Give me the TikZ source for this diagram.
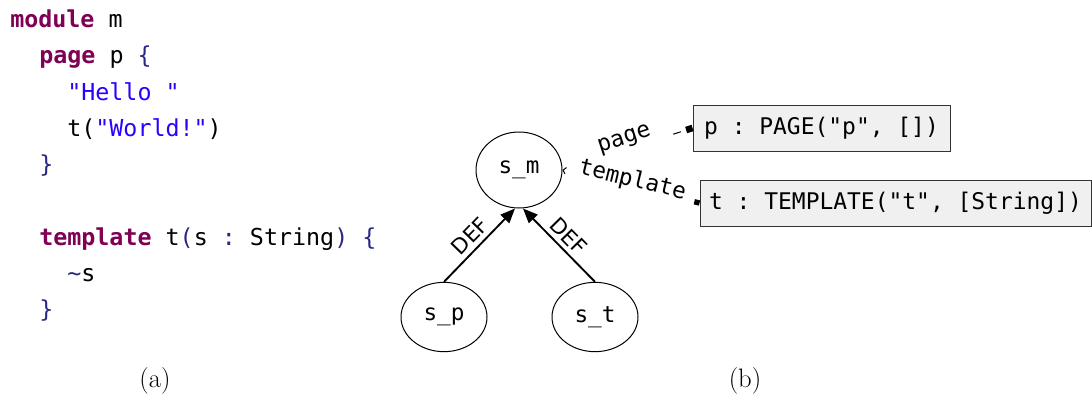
\documentclass[tikz,border=0pt]{standalone}
\usepackage{fontspec}
\setmonofont{DejaVu Sans Mono}
\newfontfamily\graphfont{DejaVu Sans}
\usepackage{tikz}
\usetikzlibrary{arrows.meta,shapes.geometric,decorations.text}
\usepackage{xcolor}

\definecolor{kwcolor}{RGB}{127,0,85}
\definecolor{strcolor}{RGB}{42,0,255}
\definecolor{puncolor}{RGB}{40,40,130}
\definecolor{boxgray}{RGB}{240,240,240}

\newcommand{\kw}[1]{\textcolor{kwcolor}{\bfseries #1}}
\newcommand{\strlit}[1]{\textcolor{strcolor}{#1}}
\newcommand{\pun}[1]{\textcolor{puncolor}{#1}}
\newcommand{\lblfont}{\ttfamily\fontsize{17}{18}\selectfont}

\begin{document}
\begin{tikzpicture}[
            x=0.75pt, y=-0.75pt,
            code/.style={anchor=base west, inner sep=0pt, font=\ttfamily\fontsize{17.5}{20}\selectfont},
            gnode/.style={ellipse, draw, line width=0.75pt, minimum width=64.5pt, minimum height=52pt, inner sep=0pt, font=\ttfamily\fontsize{17}{20}\selectfont},
            tagbox/.style={rectangle, draw=black!80, line width=0.75pt, fill=boxgray, minimum height=34.5pt, inner sep=0pt, font=\ttfamily\fontsize{17.2}{20}\selectfont},
            defedge/.style={-{Triangle[length=11pt,width=9pt]}, line width=1.4pt},
            deflabel/.style={sloped, above, font=\graphfont\fontsize{16}{18}\selectfont},
            tagedge/.style={line width=0.75pt, dash pattern=on 0pt off 2000pt},
            caption/.style={font=\fontsize{20}{24}\selectfont}
        ]
            \useasboundingbox (0,0) rectangle (1092,396);

            % (a) source program
            \node[code] (l1) at (10,27)  {\kw{module} m};
            \node[code] (l2) at (39,63)  {\kw{page} p \pun{\{}};
            \node[code] (l3) at (67,100) {\strlit{"Hello "}};
            \node[code] (l4) at (67,136) {t(\strlit{"World!"})};
            \node[code] (l5) at (39,172) {\pun{\}}};
            \node[code] (l6) at (39,245) {\kw{template} t\pun{(}s \pun{:} String\pun{)} \pun{\{}};
            \node[code] (l7) at (67,281) {\pun{\string~}s};
            \node[code] (l8) at (39,317) {\pun{\}}};

            % (b) scope graph
            \node[gnode, minimum height=57pt] (sm) at (519,170) {s\_m};
            \node[gnode] (sp) at (444,317) {s\_p};
            \node[gnode] (st) at (595,317) {s\_t};

            \node[tagbox, minimum width=192.75pt] (pagebox) at (821.5,128) {p : PAGE("p", [])};
            \node[tagbox, minimum width=293.25pt] (tbox) at (895.5,203) {t : TEMPLATE("t", [String])};

            \draw[defedge] (sp.north) -- node[deflabel] {DEF} ([xshift=-3pt]sm.south);
            \draw[defedge] (st.north) -- node[deflabel] {DEF} ([xshift=3pt]sm.south);

            \draw[tagedge, dash pattern=on 0pt off 4.5pt on 6pt off 2000pt,
                  {Square[length=5pt,width=5pt]}-] (pagebox.west) -- (sm.east);
            \draw[tagedge, {Square[length=4pt,width=4pt]}-{Straight Barb[length=2pt,width=5pt]}]
                  (tbox.west) -- (sm.east);
            \path[decorate, decoration={text along path, text={|\lblfont|page}, text align=center, raise=4pt}]
                  (sm.east) -- (pagebox.west);
            \path[decorate, decoration={text along path, text={|\lblfont|template}, text align=center}]
                  (sm.east) -- (tbox.west);

            \node[caption] (capa) at (155,381) {(a)};
            \node[caption] (capb) at (745,381) {(b)};
        \end{tikzpicture}
\end{document}
